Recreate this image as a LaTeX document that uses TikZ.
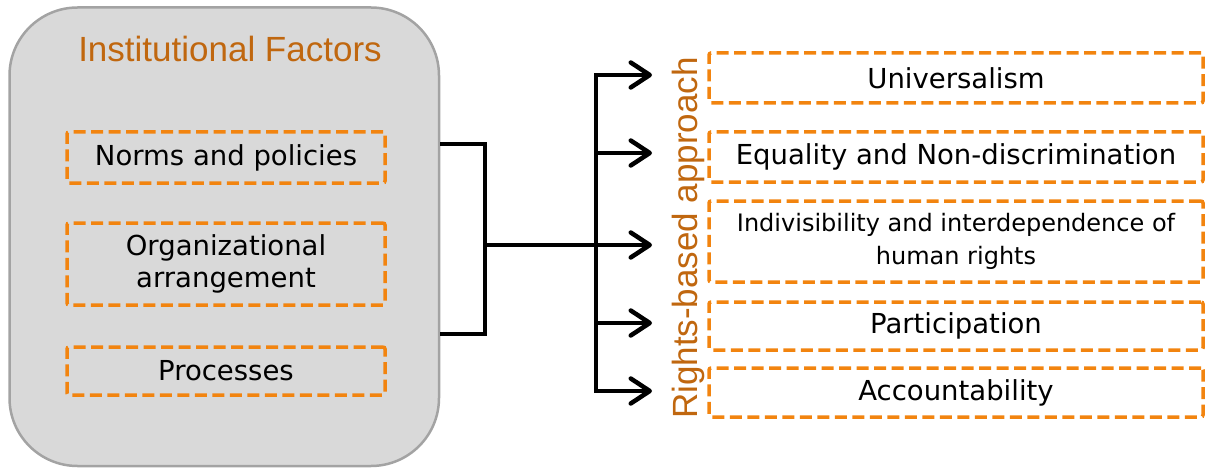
\documentclass[tikz,border=0pt]{standalone}
\usepackage{fontspec}
\setmainfont{DejaVu Sans}
\newfontfamily\headfont{Liberation Sans}
\usetikzlibrary{arrows.meta}

\definecolor{panelgray}{HTML}{D9D9D9}
\definecolor{panelline}{HTML}{A3A3A3}
\definecolor{dashorange}{HTML}{F2840F}
\definecolor{headorange}{HTML}{C0670F}

\tikzset{
  panel/.style={draw=panelline, line width=2.5pt, fill=panelgray, rounded corners=68pt},
  dbox/.style={draw=dashorange, line width=3.5pt, dash pattern=on 12pt off 5.5pt,
    rounded corners=2pt, align=center, inner sep=0pt,
    font=\fontsize{27.5}{32}\selectfont},
  headtext/.style={text=headorange, inner sep=0pt, font=\headfont\fontsize{35}{40}\selectfont},
  conn/.style={line width=4.5pt, line join=miter},
  arrowconn/.style={conn, -{Straight Barb[length=19pt,width=25pt,round]}}
}

\begin{document}
\begin{tikzpicture}[x=1pt,y=-1pt]
\useasboundingbox (0,0) rectangle (1205,468);

% left panel with the three institutional factors
\node[panel, minimum width=429.5pt, minimum height=458.5pt] (big) at (224.25,236.75) {};
\node[headtext, anchor=base] (title) at (230,62) {Institutional Factors};
\node[dbox, minimum width=318pt, minimum height=51pt] (norms) at (226,157.5) {Norms and policies};
\node[dbox, minimum width=318pt, minimum height=82pt] (org) at (226,264) {Organizational\\arrangement};
\node[dbox, minimum width=318pt, minimum height=48pt] (proc) at (226,371) {Processes};

% rights-based principles
\node[dbox, minimum width=494pt, minimum height=50pt] (univ) at (956,78) {Universalism};
\node[dbox, minimum width=494pt, minimum height=50pt] (equal) at (956,157) {Equality and Non-discrimination};
\node[dbox, minimum width=494pt, minimum height=81pt,
      font=\fontsize{24}{33}\selectfont] (indiv) at (956,241.5) {Indivisibility and interdependence of\\human rights};
\node[dbox, minimum width=494pt, minimum height=48pt] (part) at (956,326) {Participation};
\node[dbox, minimum width=494pt, minimum height=49pt] (acc) at (956,392.5) {Accountability};

\node[headtext, anchor=base, rotate=90] (rba) at (697,238) {Rights-based approach};

% bracket joining the factors
\coordinate (jt) at (485,144);
\coordinate (jb) at (485,334);
\coordinate (jm) at (485,245);
% distribution bar
\coordinate (ht) at (596,75);
\coordinate (hq) at (596,153);
\coordinate (hp) at (596,323);
\coordinate (hb) at (596,391);
% arrow tips
\coordinate (a1) at (652,75);
\coordinate (a2) at (652,153);
\coordinate (a3) at (652,245);
\coordinate (a4) at (652,323);
\coordinate (a5) at (652,391);

\draw[conn] (big.east |- jt) -- (jt) -- (jb) -- (big.east |- jb);
\draw[arrowconn] (hb) -- (ht) -- (a1);
\draw[arrowconn] (hq) -- (a2);
\draw[arrowconn] (jm) -- (a3);
\draw[arrowconn] (hp) -- (a4);
\draw[arrowconn] (ht) -- (hb) -- (a5);
\end{tikzpicture}
\end{document}
